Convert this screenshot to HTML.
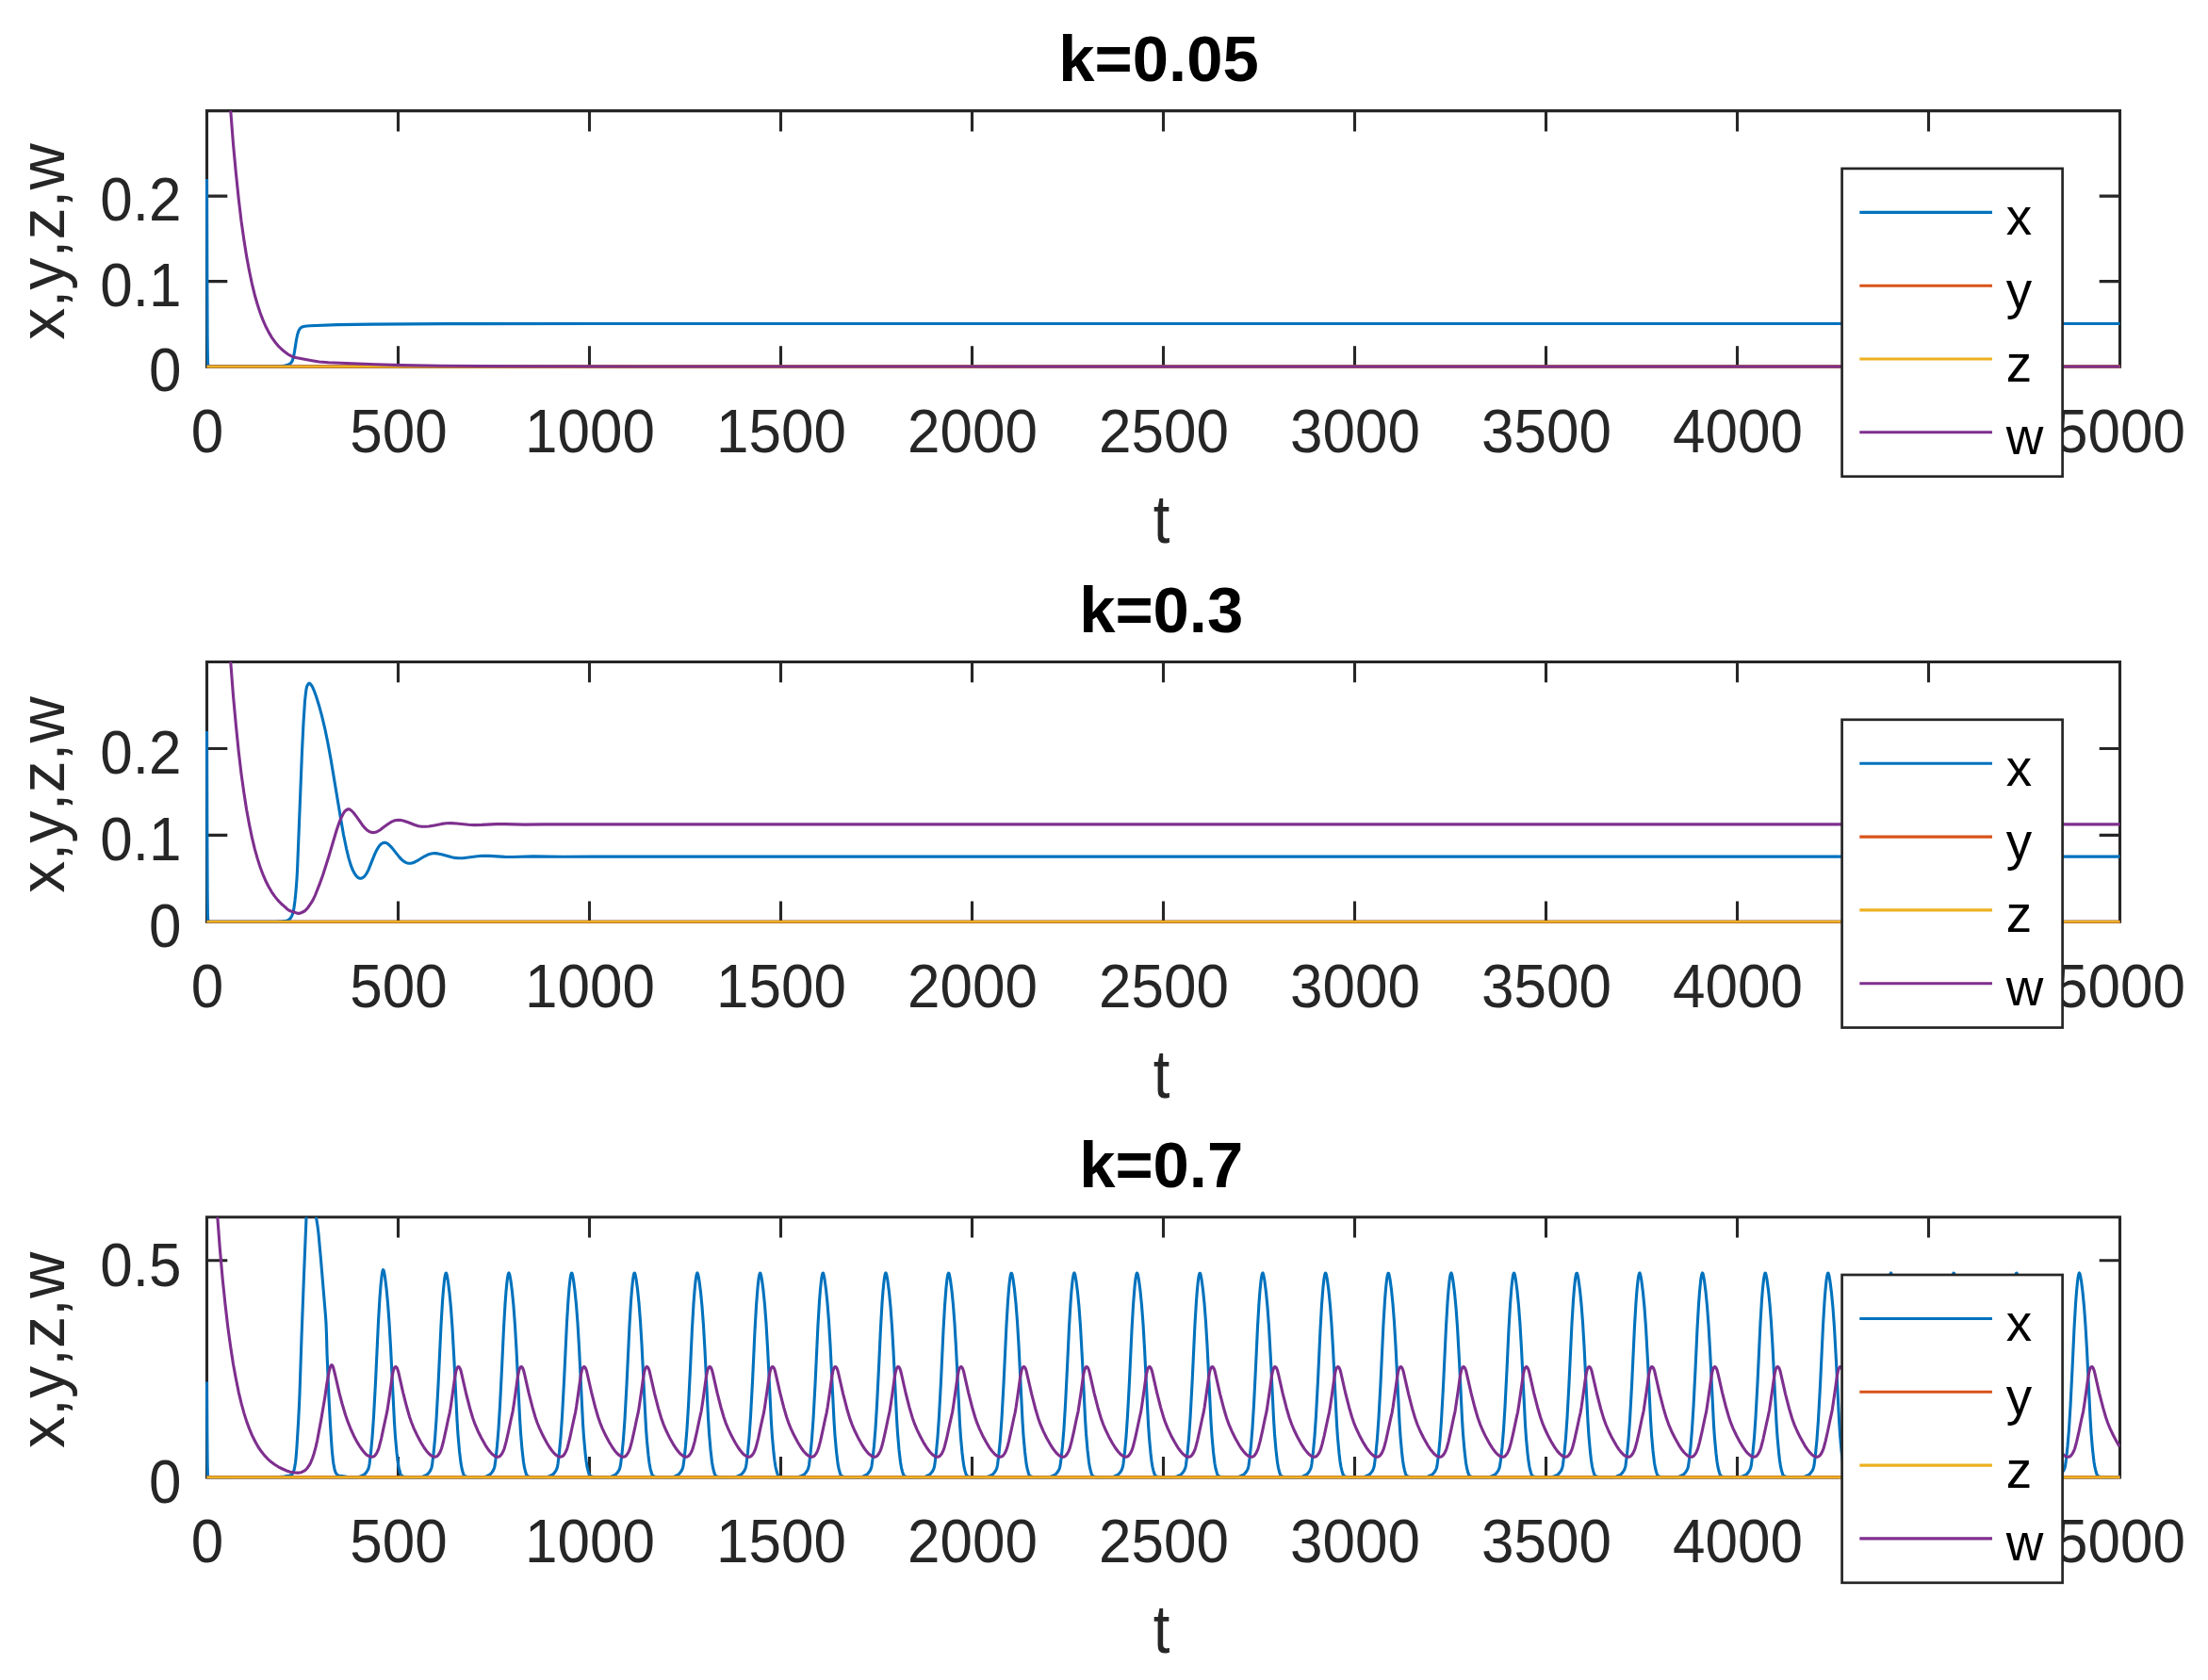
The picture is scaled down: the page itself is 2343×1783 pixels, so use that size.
<!DOCTYPE html><html><head><meta charset="utf-8"><title>k plots</title><style>html,body{margin:0;padding:0;background:#fff}svg{display:block}text{font-family:"Liberation Sans",Arial,Helvetica,sans-serif;font-kerning:none}</style></head><body>
<svg width="2343" height="1783" viewBox="0 0 2343 1783">
<rect width="2343" height="1783" fill="#fff"/>
<g>
<g font-size="62" fill="#262626" text-anchor="middle">
<text transform="translate(220.0,480.4) scale(1,1.038)">0</text>
<text transform="translate(423.0,480.4) scale(1,1.038)">500</text>
<text transform="translate(626.0,480.4) scale(1,1.038)">1000</text>
<text transform="translate(829.0,480.4) scale(1,1.038)">1500</text>
<text transform="translate(1032.0,480.4) scale(1,1.038)">2000</text>
<text transform="translate(1235.0,480.4) scale(1,1.038)">2500</text>
<text transform="translate(1438.0,480.4) scale(1,1.038)">3000</text>
<text transform="translate(1641.0,480.4) scale(1,1.038)">3500</text>
<text transform="translate(1844.0,480.4) scale(1,1.038)">4000</text>
<text transform="translate(2047.0,480.4) scale(1,1.038)">4500</text>
<text transform="translate(2250.0,480.4) scale(1,1.038)">5000</text>
</g>
<g font-size="62" fill="#262626" text-anchor="end">
<text transform="translate(192.5,415.2) scale(1,1.038)">0</text>
<text transform="translate(192.5,324.7) scale(1,1.038)">0.1</text>
<text transform="translate(192.5,234.2) scale(1,1.038)">0.2</text>
</g>
<text transform="translate(1232.5,576.4) scale(0.93,1.05)" font-size="68.2" fill="#262626" text-anchor="middle">t</text>
<text transform="translate(68,256.5) rotate(-90)" font-size="68.2" fill="#262626" text-anchor="middle">x,y,z,w</text>
<text x="1229.5" y="86.4" font-size="68.8" font-weight="bold" fill="#000" text-anchor="middle">k=0.05</text>
<path d="M219.50,117.60 H2249.50 V389.10 H219.50 Z M422.50,389.10 v-21.80 M422.50,117.60 v21.80 M625.50,389.10 v-21.80 M625.50,117.60 v21.80 M828.50,389.10 v-21.80 M828.50,117.60 v21.80 M1031.50,389.10 v-21.80 M1031.50,117.60 v21.80 M1234.50,389.10 v-21.80 M1234.50,117.60 v21.80 M1437.50,389.10 v-21.80 M1437.50,117.60 v21.80 M1640.50,389.10 v-21.80 M1640.50,117.60 v21.80 M1843.50,389.10 v-21.80 M1843.50,117.60 v21.80 M2046.50,389.10 v-21.80 M2046.50,117.60 v21.80 M219.50,298.60 h21.80 M2249.50,298.60 h-21.80 M219.50,208.10 h21.80 M2249.50,208.10 h-21.80" fill="none" stroke="#262626" stroke-width="3.1" stroke-linejoin="miter"/>
<clipPath id="c0"><rect x="217.95" y="117.60" width="2033.10" height="273.05"/></clipPath>
<g clip-path="url(#c0)" fill="none" stroke-width="3.1" stroke-linejoin="round" stroke-linecap="butt">
<path d="M219.5,190 219.8,298.6 220.1,357.4 220.4,381.9 220.8,389.1 294,389.1 299.5,388.6 302.5,388 306,386.9 307.5,386.2 308.5,385.4 309.5,384.2 310.5,382.2 311.5,378.6 312.5,373.2 314.5,360.5 315.5,355.7 316.5,352.3 317,351 318,349.3 319,348.1 320,347.3 321.5,346.7 323.5,346.3 328.5,345.8 358.5,344.6 395,344.1 474,343.6 632,343.5 831.5,343.5 1031,343.5 1230.5,343.5 1430,343.5 1629.5,343.5 1829,343.5 2028.5,343.5 2228,343.5 2249.5,343.5" stroke="#0072BD"/>
<path d="M219.50,389.10 H2249.50" stroke="#D95319"/>
<path d="M219.50,389.10 H2249.50" stroke="#EDB120" stroke-width="2.6"/>
<path d="M241.8,75.8 244.7,117 247.5,152.8 250.4,183.9 253.2,210.9 256,234.4 258.9,254.8 261.7,272.4 264.6,287.8 267.4,301.1 270.2,312.7 273.1,322.8 275.9,331.5 278.8,339.1 282,346.5 285.3,352.9 288.5,358.3 291.8,362.9 295,366.8 298.7,370.5 302.3,373.6 305.6,376 308.6,377.7 311.6,378.9 315.1,379.8 329.6,382.5 338.6,384 348.6,384.7 399.1,386.8 426.6,387.6 467.1,388.2 554.1,388.8 684.1,389 883.6,389 1083.1,389.1 1282.6,389.1 1482.1,389.1 1681.6,389.1 1881.1,389.1 2080.6,389.1 2249.5,389.1" stroke="#7E2F8E"/>
</g>
<rect x="1954.6" y="178.9" width="234" height="326.8" fill="#fff" stroke="#262626" stroke-width="2.7"/>
<path d="M1973.3,225.4 H2114" stroke="#0072BD" stroke-width="3.1" fill="none"/>
<text x="2128.7" y="248.9" font-size="54.8" fill="#000">x</text>
<path d="M1973.3,303.2 H2114" stroke="#D95319" stroke-width="3.1" fill="none"/>
<text x="2128.7" y="326.7" font-size="54.8" fill="#000">y</text>
<path d="M1973.3,381.0 H2114" stroke="#EDB120" stroke-width="3.1" fill="none"/>
<text x="2128.7" y="404.5" font-size="54.8" fill="#000">z</text>
<path d="M1973.3,458.8 H2114" stroke="#7E2F8E" stroke-width="3.1" fill="none"/>
<text x="2128.7" y="482.3" font-size="54.8" fill="#000">w</text>
</g>
<g>
<g font-size="62" fill="#262626" text-anchor="middle">
<text transform="translate(220.0,1069.3) scale(1,1.038)">0</text>
<text transform="translate(423.0,1069.3) scale(1,1.038)">500</text>
<text transform="translate(626.0,1069.3) scale(1,1.038)">1000</text>
<text transform="translate(829.0,1069.3) scale(1,1.038)">1500</text>
<text transform="translate(1032.0,1069.3) scale(1,1.038)">2000</text>
<text transform="translate(1235.0,1069.3) scale(1,1.038)">2500</text>
<text transform="translate(1438.0,1069.3) scale(1,1.038)">3000</text>
<text transform="translate(1641.0,1069.3) scale(1,1.038)">3500</text>
<text transform="translate(1844.0,1069.3) scale(1,1.038)">4000</text>
<text transform="translate(2047.0,1069.3) scale(1,1.038)">4500</text>
<text transform="translate(2250.0,1069.3) scale(1,1.038)">5000</text>
</g>
<g font-size="62" fill="#262626" text-anchor="end">
<text transform="translate(192.5,1004.9) scale(1,1.038)">0</text>
<text transform="translate(192.5,913.0) scale(1,1.038)">0.1</text>
<text transform="translate(192.5,821.0) scale(1,1.038)">0.2</text>
</g>
<text transform="translate(1232.5,1165.3) scale(0.93,1.05)" font-size="68.2" fill="#262626" text-anchor="middle">t</text>
<text transform="translate(68,843.5) rotate(-90)" font-size="68.2" fill="#262626" text-anchor="middle">x,y,z,w</text>
<text x="1232.2" y="670.7" font-size="68.8" font-weight="bold" fill="#000" text-anchor="middle">k=0.3</text>
<path d="M219.50,702.50 H2249.50 V978.30 H219.50 Z M422.50,978.30 v-21.80 M422.50,702.50 v21.80 M625.50,978.30 v-21.80 M625.50,702.50 v21.80 M828.50,978.30 v-21.80 M828.50,702.50 v21.80 M1031.50,978.30 v-21.80 M1031.50,702.50 v21.80 M1234.50,978.30 v-21.80 M1234.50,702.50 v21.80 M1437.50,978.30 v-21.80 M1437.50,702.50 v21.80 M1640.50,978.30 v-21.80 M1640.50,702.50 v21.80 M1843.50,978.30 v-21.80 M1843.50,702.50 v21.80 M2046.50,978.30 v-21.80 M2046.50,702.50 v21.80 M219.50,886.37 h21.80 M2249.50,886.37 h-21.80 M219.50,794.43 h21.80 M2249.50,794.43 h-21.80" fill="none" stroke="#262626" stroke-width="3.1" stroke-linejoin="miter"/>
<clipPath id="c1"><rect x="217.95" y="702.50" width="2033.10" height="277.35"/></clipPath>
<g clip-path="url(#c1)" fill="none" stroke-width="3.1" stroke-linejoin="round" stroke-linecap="butt">
<path d="M219.5,776 219.8,886.4 220.1,946.1 220.4,970.9 220.8,978.3 293.5,978.3 300,977.7 304,977.2 306,976.6 307,975.8 308.5,974.1 309.5,972.5 310.5,970 311.5,965.9 312,963.3 313,955.7 314,945.8 315,932.6 315.5,923.8 320.5,797.6 322,767.2 323.5,744.2 324.5,734.9 325,731.4 325.5,729 326.5,726.9 327,726.1 327.5,725.5 328,725.2 328.5,725.2 329,725.5 330,726.7 331.5,728.9 333,732.3 335.5,739 338.5,748.7 341.5,759.6 345,774.4 348,789 351,805.4 361.5,868.6 364.5,885.8 367.5,900.3 370,910.6 372,917.4 373.5,921.5 375,924.8 376.5,927.5 378,929.5 379.5,931.1 380.5,931.7 382,932.2 383,932.3 384.5,931.8 386,930.8 387.5,929.2 389,927 391,923.1 394,915.7 397.5,906.9 399.5,902.6 401.5,899.2 403,897.1 404.5,895.7 406,894.7 407,894.4 408.5,894.3 410,894.7 411.5,895.5 413.5,897.2 416,899.9 423.5,909.4 426,912.1 428,913.8 430,915.1 432,915.9 434,916.3 436,916.2 438,915.7 440.5,914.7 444,912.8 450.5,908.8 453.5,907.3 456.5,906.3 459,905.8 461.5,905.6 464.5,905.9 468.5,906.7 478.5,909.6 482.5,910.4 486.5,910.8 491,910.7 497,910 506.5,908.7 512.5,908.3 519,908.4 535.5,909.4 544,909.5 565.5,908.9 598,909.2 630,909.1 829.5,909.1 1029,909.1 1228.5,909.1 1428,909.1 1627.5,909.1 1827,909.1 2026.5,909.1 2226,909.1 2249.5,909.1" stroke="#0072BD"/>
<path d="M219.50,978.30 H2249.50" stroke="#D95319"/>
<path d="M219.50,978.30 H2249.50" stroke="#EDB120" stroke-width="2.6"/>
<path d="M241.8,660.1 244.7,701.9 247.5,738.3 250.4,769.9 253.2,797.3 256,821.1 258.9,841.8 261.7,859.8 264.6,875.4 267.4,888.9 270.2,900.7 273.1,910.9 275.9,919.8 278.8,927.5 281.6,934.2 284.9,940.7 288.1,946.3 291.4,951.1 294.6,955.1 298.3,959 301.9,962.2 303.1,963.1 304.6,964.7 306.1,965.8 308.6,967 313.6,968.6 315.6,969.3 316.6,969.4 318.1,969.2 320.1,968.5 323.1,967 324.6,965.8 326.6,963.5 329.6,959.2 332.1,955.1 334.6,949.8 339.1,938.4 342.6,928.7 349.1,908.3 357.1,881.2 360.1,872.6 362.1,867.7 364.1,863.8 365.6,861.4 366.6,860.4 368.6,859.1 369.6,858.8 370.1,858.8 371.1,859.1 373.1,860.5 375.1,862.5 378.1,866.4 384.6,875.7 387.1,878.7 389.1,880.7 391.1,882.1 393.1,883.1 394.6,883.5 396.6,883.6 398.6,883.2 400.6,882.4 403.1,881 407.6,877.6 412.6,874 415.6,872.2 418.1,871.1 420.6,870.5 423.1,870.3 425.6,870.5 428.6,871.2 433.1,872.8 440.1,875.5 444.1,876.7 447.6,877.2 451.1,877.3 455.1,877 461.1,875.9 468.6,874.4 473.6,873.8 478.6,873.6 484.6,874 497.1,875.3 503.6,875.6 511.1,875.4 526.6,874.6 536.1,874.6 556.6,875.1 577.1,874.9 596.1,874.9 623.1,874.9 822.6,874.9 1022.1,874.9 1221.6,874.9 1421.1,874.9 1620.6,874.9 1820.1,874.9 2019.6,874.9 2219.1,874.9 2249.5,874.9" stroke="#7E2F8E"/>
</g>
<rect x="1954.6" y="763.8" width="234" height="326.8" fill="#fff" stroke="#262626" stroke-width="2.7"/>
<path d="M1973.3,810.3 H2114" stroke="#0072BD" stroke-width="3.1" fill="none"/>
<text x="2128.7" y="833.8" font-size="54.8" fill="#000">x</text>
<path d="M1973.3,888.1 H2114" stroke="#D95319" stroke-width="3.1" fill="none"/>
<text x="2128.7" y="911.6" font-size="54.8" fill="#000">y</text>
<path d="M1973.3,965.9 H2114" stroke="#EDB120" stroke-width="3.1" fill="none"/>
<text x="2128.7" y="989.4" font-size="54.8" fill="#000">z</text>
<path d="M1973.3,1043.7 H2114" stroke="#7E2F8E" stroke-width="3.1" fill="none"/>
<text x="2128.7" y="1067.2" font-size="54.8" fill="#000">w</text>
</g>
<g>
<g font-size="62" fill="#262626" text-anchor="middle">
<text transform="translate(220.0,1658.2) scale(1,1.038)">0</text>
<text transform="translate(423.0,1658.2) scale(1,1.038)">500</text>
<text transform="translate(626.0,1658.2) scale(1,1.038)">1000</text>
<text transform="translate(829.0,1658.2) scale(1,1.038)">1500</text>
<text transform="translate(1032.0,1658.2) scale(1,1.038)">2000</text>
<text transform="translate(1235.0,1658.2) scale(1,1.038)">2500</text>
<text transform="translate(1438.0,1658.2) scale(1,1.038)">3000</text>
<text transform="translate(1641.0,1658.2) scale(1,1.038)">3500</text>
<text transform="translate(1844.0,1658.2) scale(1,1.038)">4000</text>
<text transform="translate(2047.0,1658.2) scale(1,1.038)">4500</text>
<text transform="translate(2250.0,1658.2) scale(1,1.038)">5000</text>
</g>
<g font-size="62" fill="#262626" text-anchor="end">
<text transform="translate(192.5,1595.0) scale(1,1.038)">0</text>
<text transform="translate(192.5,1364.8) scale(1,1.038)">0.5</text>
</g>
<text transform="translate(1232.5,1754.2) scale(0.93,1.05)" font-size="68.2" fill="#262626" text-anchor="middle">t</text>
<text transform="translate(68,1432.9) rotate(-90)" font-size="68.2" fill="#262626" text-anchor="middle">x,y,z,w</text>
<text x="1232.2" y="1260.0" font-size="68.8" font-weight="bold" fill="#000" text-anchor="middle">k=0.7</text>
<path d="M219.50,1291.70 H2249.50 V1567.90 H219.50 Z M422.50,1567.90 v-21.80 M422.50,1291.70 v21.80 M625.50,1567.90 v-21.80 M625.50,1291.70 v21.80 M828.50,1567.90 v-21.80 M828.50,1291.70 v21.80 M1031.50,1567.90 v-21.80 M1031.50,1291.70 v21.80 M1234.50,1567.90 v-21.80 M1234.50,1291.70 v21.80 M1437.50,1567.90 v-21.80 M1437.50,1291.70 v21.80 M1640.50,1567.90 v-21.80 M1640.50,1291.70 v21.80 M1843.50,1567.90 v-21.80 M1843.50,1291.70 v21.80 M2046.50,1567.90 v-21.80 M2046.50,1291.70 v21.80 M219.50,1337.73 h21.80 M2249.50,1337.73 h-21.80" fill="none" stroke="#262626" stroke-width="3.1" stroke-linejoin="miter"/>
<clipPath id="c2"><rect x="217.95" y="1291.70" width="2033.10" height="277.75"/></clipPath>
<g clip-path="url(#c2)" fill="none" stroke-width="3.1" stroke-linejoin="round" stroke-linecap="butt">
<path d="M219.5,1466.6 219.8,1521.9 220.1,1551.8 220.4,1564.2 220.8,1567.9 285.5,1567.7 296,1567.6 301.5,1567 307.5,1566 309,1565.5 309.5,1565.2 310,1564.7 311,1562.8 312,1560.2 312.5,1558.2 313.5,1552.2 314,1548.1 315,1535.4 316.5,1510.6 317.5,1491.4 318,1479.3 320,1419.5 322.5,1353.5 325,1292.5 326,1282.6 327,1275 328,1269.3 328.5,1267.3 329,1265.8 329.5,1264.7 330,1264.2 330.5,1264.2 331,1265 331.5,1266.6 332.5,1271.7 335.5,1292 337,1301.1 338,1309.4 340.5,1336.8 345.5,1396.8 346,1404.7 346.5,1417.4 347,1436 349,1483.8 350.5,1511.9 352,1535 352.5,1541.3 353.5,1550.5 354,1554 355,1559.1 355.5,1561.1 356,1562.5 357,1564.2 358,1565.3 359,1565.9 361.5,1566.4 368,1567.4 372,1567.9 378.5,1567.8 381,1567.5 383,1566.7 384.5,1565.9 386,1565.3 387,1564.6 388.5,1562.9 390,1560.7 391,1558.5 391.5,1556.7 392,1554 393.5,1541.6 395,1525.6 396.5,1503.9 398.5,1466.9 401.5,1402.5 403,1377.4 404,1364.5 405,1354.8 405.5,1351.4 406,1348.9 406.5,1347.7 407,1348 407.5,1349.6 408.5,1355.2 410,1367.2 411.5,1383.1 413,1403.3 414.5,1429 418.5,1510 419.5,1524.9 421,1541.4 422,1550.1 423,1556.6 424,1560.8 425,1564.2 425.5,1565.5 426,1566.1 427,1566.8 428.5,1567.4 431,1567.8 444,1567.9 447,1567.6 448.5,1567.2 451.5,1565.8 453,1565.1 454,1564.2 455.5,1562.4 456.5,1561 457.5,1558.9 458,1557.4 458.5,1555.1 460,1543 461.5,1527.5 463,1506.6 465,1470.3 468,1406.6 469.5,1381.6 470.5,1368.8 471.5,1359.1 472,1355.5 472.5,1352.9 473,1351.4 473.5,1351.1 474,1352.3 474.5,1354.4 475.5,1360.4 477,1372.5 478.5,1388.4 480,1409.3 482,1445.4 485,1507.2 486,1522.8 487.5,1539.9 489,1552.6 490,1558.2 491,1562 492,1565.2 492.5,1565.9 493.5,1566.7 495,1567.4 497.5,1567.8 510,1567.9 513,1567.7 514.5,1567.4 516,1566.9 518,1565.9 519.5,1565.2 520.5,1564.4 522,1562.7 523,1561.2 524,1559.3 524.5,1557.9 525,1556 526,1548.7 527.5,1534.9 529,1516.6 530.5,1492.3 532.5,1452.7 534.5,1409.7 536,1384 537,1370.6 538,1360.4 538.5,1356.5 539,1353.6 539.5,1351.7 540,1351 540.5,1351.8 541,1353.7 542,1359.3 543.5,1371 545,1386.5 546.5,1406.8 548,1432.6 551.5,1504.2 552.5,1520.6 554,1538.3 555.5,1551.5 556.5,1557.4 557.5,1561.5 558.5,1564.7 559,1565.7 560,1566.6 561.5,1567.3 563.5,1567.7 567,1567.9 578,1567.8 581,1567.5 583,1566.7 584.5,1565.9 586,1565.3 587,1564.6 588.5,1562.9 590,1560.7 591,1558.4 591.5,1556.7 592,1553.8 593.5,1541.4 595,1525.4 596.5,1503.7 598.5,1466.7 601.5,1403.2 603,1379.1 604,1366.8 605,1357.7 605.5,1354.4 606,1352.2 606.5,1351.1 607,1351.4 607.5,1353 608.5,1358.3 610,1369.6 611.5,1384.7 613,1404.3 614.5,1429.6 618.5,1510.3 619.5,1525.2 621,1541.6 622,1550.3 623,1556.7 624,1560.9 625,1564.3 625.5,1565.5 626,1566.1 627,1566.8 628.5,1567.4 631,1567.8 644,1567.9 647,1567.6 648.5,1567.2 651.5,1565.8 653,1565.1 654.5,1563.7 656,1561.7 657,1560 657.5,1558.9 658,1557.3 658.5,1554.9 660,1542.8 661.5,1527.3 663,1506.3 665,1469.9 668,1406.2 669.5,1381.4 670.5,1368.6 671.5,1358.9 672,1355.4 672.5,1352.8 673,1351.3 673.5,1351.1 674,1352.4 675,1357.3 676.5,1368.2 678,1382.9 679.5,1402 681,1426.7 684,1487.4 685.5,1515.9 686.5,1529.4 688,1544.7 689,1552.8 690,1558.3 691,1562.1 692,1565.2 692.5,1565.9 693.5,1566.7 695,1567.4 697.5,1567.8 710,1567.9 713,1567.7 714.5,1567.4 716,1566.9 718,1565.9 719.5,1565.2 720.5,1564.4 722,1562.6 723,1561.2 724,1559.3 724.5,1557.9 725,1555.9 726,1548.5 727.5,1534.7 729,1516.4 730.5,1492 732.5,1452.3 734.5,1409.3 736,1383.7 737,1370.4 738,1360.2 738.5,1356.4 739,1353.5 739.5,1351.7 740,1351 740.5,1351.9 741,1353.8 742,1359.4 743.5,1371.2 745,1386.8 746.5,1407.1 748,1433 751.5,1504.6 752.5,1520.9 754,1538.5 755.5,1551.7 756.5,1557.5 757.5,1561.5 758.5,1564.8 759,1565.7 760,1566.6 761.5,1567.3 763.5,1567.7 767,1567.9 778,1567.8 781,1567.5 783,1566.7 784.5,1565.9 786,1565.3 787,1564.5 788.5,1562.8 790,1560.6 791,1558.4 791.5,1556.6 792,1553.7 793.5,1541.2 795,1525.1 796.5,1503.3 798.5,1466.3 801,1412.4 802.5,1386.1 804,1366.6 805,1357.5 805.5,1354.3 806,1352.1 806.5,1351.1 807,1351.4 807.5,1353.1 808.5,1358.4 810,1369.8 811.5,1384.9 813,1404.6 814.5,1430 818.5,1510.7 819.5,1525.4 821,1541.8 822,1550.5 823,1556.8 824,1561 825,1564.3 825.5,1565.5 826.5,1566.5 828,1567.3 829.5,1567.6 832,1567.9 844.5,1567.8 847.5,1567.5 849.5,1566.8 851,1566 852.5,1565.4 853.5,1564.7 855,1563 856.5,1560.9 857.5,1558.8 858,1557.2 858.5,1554.8 860,1542.7 861.5,1527.1 863,1506 865,1469.5 868,1405.8 869.5,1381.1 870.5,1368.3 871.5,1358.8 872,1355.3 872.5,1352.7 873,1351.3 873.5,1351.1 874,1352.5 875,1357.4 876.5,1368.4 878,1383.1 879.5,1402.3 881,1427 885,1507.9 886,1523.3 887.5,1540.3 889,1552.9 890,1558.4 891.5,1563.8 892,1565.2 892.5,1566 893.5,1566.7 895,1567.4 897.5,1567.8 910,1567.9 913,1567.7 914.5,1567.4 916,1566.9 918,1565.9 919.5,1565.2 920.5,1564.4 922,1562.6 923,1561.2 924,1559.2 924.5,1557.8 925,1555.8 926,1548.4 927.5,1534.5 929,1516.1 930.5,1491.6 932.5,1451.8 934.5,1408.9 936,1383.4 937,1370.2 938,1360.1 938.5,1356.3 939,1353.4 939.5,1351.6 940,1351 940.5,1351.9 941,1353.9 942,1359.6 943.5,1371.4 945,1387 946.5,1407.4 948,1433.4 951.5,1505 952.5,1521.1 954,1538.7 955.5,1551.8 956.5,1557.6 957.5,1561.6 958.5,1564.8 959,1565.8 960,1566.6 961.5,1567.3 963.5,1567.7 967.5,1567.9 978,1567.8 980.5,1567.6 982.5,1566.9 984.5,1565.9 986,1565.3 987,1564.5 988.5,1562.8 990,1560.6 991,1558.3 991.5,1556.5 992,1553.6 993.5,1541 995,1524.9 996.5,1503 998.5,1465.9 1001,1412 1002.5,1385.8 1004,1366.4 1005,1357.4 1005.5,1354.2 1006,1352.1 1006.5,1351.1 1007,1351.5 1007.5,1353.2 1008.5,1358.5 1010,1369.9 1011.5,1385.1 1013,1404.9 1014.5,1430.4 1018.5,1511 1019.5,1525.7 1021,1542 1022,1550.6 1023,1556.9 1024,1561.1 1025,1564.4 1025.5,1565.6 1026.5,1566.5 1028,1567.3 1030,1567.7 1033,1567.9 1044.5,1567.8 1047.5,1567.5 1049.5,1566.8 1051,1566 1052.5,1565.4 1053.5,1564.7 1055,1563 1056.5,1560.9 1057.5,1558.8 1058,1557.1 1058.5,1554.7 1060,1542.5 1061.5,1526.8 1063,1505.6 1065,1469.1 1068,1405.5 1069.5,1380.8 1070.5,1368.1 1071.5,1358.6 1072,1355.1 1072.5,1352.6 1073,1351.2 1073.5,1351.2 1074,1352.5 1075,1357.5 1076.5,1368.5 1078,1383.3 1079.5,1402.5 1081,1427.4 1085,1508.2 1086,1523.6 1087.5,1540.5 1089,1553.1 1090,1558.4 1091.5,1563.9 1092,1565.3 1092.5,1566 1093.5,1566.7 1095,1567.4 1097.5,1567.8 1110,1567.9 1113,1567.7 1114.5,1567.4 1116,1566.8 1118,1565.9 1119.5,1565.2 1120.5,1564.3 1122,1562.6 1123,1561.1 1124,1559.2 1124.5,1557.7 1125,1555.6 1126,1548.2 1127.5,1534.2 1129,1515.8 1130.5,1491.2 1132.5,1451.4 1134.5,1408.5 1136,1383.1 1137,1369.9 1138,1359.9 1138.5,1356.1 1139,1353.3 1139.5,1351.6 1140,1351 1140.5,1352 1141,1354 1142,1359.7 1143.5,1371.6 1145,1387.2 1146.5,1407.7 1148.5,1443.5 1151.5,1505.3 1152.5,1521.4 1154,1538.9 1155.5,1551.9 1156.5,1557.7 1157.5,1561.7 1158.5,1564.9 1159,1565.8 1160,1566.6 1161.5,1567.3 1163.5,1567.7 1167.5,1567.9 1178,1567.8 1180.5,1567.6 1182.5,1566.9 1184.5,1565.9 1186,1565.3 1187,1564.5 1188.5,1562.8 1190,1560.6 1191,1558.2 1191.5,1556.4 1192,1553.4 1193.5,1540.8 1195,1524.6 1196.5,1502.7 1198.5,1465.4 1201,1411.6 1202.5,1385.5 1204,1366.2 1205,1357.2 1205.5,1354.1 1206,1352 1206.5,1351 1207,1351.5 1207.5,1353.3 1208.5,1358.6 1210,1370.1 1211.5,1385.4 1213,1405.2 1214.5,1430.7 1218.5,1511.3 1219.5,1525.9 1221,1542.2 1222,1550.8 1223,1557 1224,1561.1 1225,1564.4 1225.5,1565.6 1226.5,1566.5 1228,1567.3 1230,1567.7 1233,1567.9 1244.5,1567.8 1247.5,1567.5 1249.5,1566.7 1251,1566 1252.5,1565.4 1253.5,1564.6 1255,1563 1256.5,1560.8 1257.5,1558.7 1258,1557.1 1258.5,1554.5 1260,1542.3 1261.5,1526.6 1263,1505.3 1265,1468.7 1268,1405.1 1269.5,1380.5 1270.5,1367.9 1271.5,1358.4 1272,1355 1272.5,1352.6 1273,1351.2 1273.5,1351.2 1274,1352.6 1275,1357.6 1276.5,1368.7 1278,1383.5 1279.5,1402.8 1281,1427.8 1285,1508.6 1286,1523.9 1287.5,1540.7 1289,1553.2 1290,1558.5 1291.5,1563.9 1292,1565.3 1292.5,1566 1293.5,1566.8 1295,1567.4 1297.5,1567.8 1310,1567.9 1313,1567.7 1314.5,1567.4 1316,1566.8 1317.5,1566 1319.5,1565.2 1320.5,1564.3 1322,1562.6 1323,1561.1 1324,1559.1 1324.5,1557.7 1325,1555.5 1326,1548 1327.5,1534 1329,1515.5 1330.5,1490.9 1332.5,1451 1334.5,1408.1 1336,1382.8 1337,1369.7 1338,1359.7 1338.5,1356 1339,1353.2 1339.5,1351.5 1340,1351 1340.5,1352.1 1341,1354.1 1342,1359.8 1343.5,1371.7 1345,1387.5 1346.5,1408 1348.5,1443.9 1351.5,1505.7 1352.5,1521.7 1354,1539.1 1355.5,1552.1 1356.5,1557.8 1357.5,1561.7 1358.5,1565 1359,1565.8 1360,1566.7 1361.5,1567.4 1363.5,1567.7 1367.5,1567.9 1378,1567.8 1380.5,1567.6 1382.5,1566.9 1384.5,1565.9 1386,1565.3 1387,1564.5 1388.5,1562.8 1390,1560.5 1391,1558.2 1391.5,1556.3 1392,1553.3 1393.5,1540.6 1395,1524.4 1396.5,1502.3 1398.5,1465 1401,1411.2 1402.5,1385.2 1404,1365.9 1405,1357.1 1405.5,1354 1406,1351.9 1406.5,1351 1407,1351.6 1407.5,1353.3 1408.5,1358.8 1410,1370.3 1411.5,1385.6 1413,1405.5 1414.5,1431.1 1418.5,1511.7 1419.5,1526.2 1421,1542.4 1422,1550.9 1423,1557 1424,1561.2 1425,1564.5 1425.5,1565.6 1426.5,1566.6 1428,1567.3 1430,1567.7 1433,1567.9 1444.5,1567.8 1447.5,1567.5 1449.5,1566.7 1451,1566 1452.5,1565.3 1453.5,1564.6 1455,1563 1456.5,1560.8 1457.5,1558.6 1458,1557 1458.5,1554.4 1460,1542.1 1461.5,1526.3 1463,1505 1465,1468.3 1468,1404.7 1469.5,1380.2 1470.5,1367.7 1471.5,1358.3 1472,1354.9 1472.5,1352.5 1473,1351.2 1473.5,1351.2 1474,1352.7 1475,1357.8 1476.5,1368.9 1478,1383.8 1479.5,1403.1 1481,1428.1 1485,1508.9 1486,1524.1 1487.5,1540.9 1488.5,1549.7 1489.5,1556.2 1490.5,1560.6 1491.5,1564 1492,1565.4 1492.5,1566 1493.5,1566.8 1495,1567.4 1497.5,1567.8 1510.5,1567.9 1513.5,1567.6 1515,1567.2 1516.5,1566.5 1519.5,1565.1 1520.5,1564.3 1522,1562.5 1523,1561.1 1524,1559.1 1524.5,1557.6 1525,1555.4 1526.5,1543.6 1528,1528.3 1529.5,1507.6 1531.5,1471.5 1534.5,1407.7 1536,1382.5 1537,1369.5 1538,1359.6 1538.5,1355.9 1539,1353.2 1539.5,1351.5 1540,1351 1540.5,1352.1 1541,1354.2 1542,1360 1543.5,1371.9 1545,1387.7 1546.5,1408.3 1548.5,1444.2 1551.5,1506.1 1552.5,1522 1554,1539.3 1555.5,1552.2 1556.5,1557.9 1557.5,1561.8 1558.5,1565 1559,1565.8 1560,1566.7 1561.5,1567.4 1564,1567.8 1576.5,1567.9 1579.5,1567.7 1581,1567.5 1583,1566.6 1584.5,1565.9 1586,1565.2 1587,1564.5 1588.5,1562.7 1590,1560.5 1591,1558.1 1591.5,1556.2 1592.5,1549.2 1594,1535.5 1595.5,1517.5 1597,1493.4 1599,1454 1601,1410.8 1602.5,1384.9 1604,1365.7 1605,1357 1605.5,1353.9 1606,1351.9 1606.5,1351 1607,1351.6 1607.5,1353.4 1608.5,1358.9 1610,1370.5 1611.5,1385.8 1613,1405.8 1614.5,1431.5 1618.5,1512 1619.5,1526.5 1621,1542.6 1622,1551.1 1623,1557.1 1624,1561.3 1625,1564.6 1625.5,1565.6 1626.5,1566.6 1628,1567.3 1630,1567.7 1633,1567.9 1644.5,1567.8 1647.5,1567.5 1649.5,1566.7 1651,1566 1652.5,1565.3 1653.5,1564.6 1655,1562.9 1656.5,1560.8 1657.5,1558.6 1658,1556.9 1658.5,1554.3 1660,1541.9 1661.5,1526.1 1663,1504.7 1665,1467.9 1668,1404.3 1669.5,1379.9 1670.5,1367.4 1671.5,1358.1 1672,1354.8 1672.5,1352.4 1673,1351.2 1673.5,1351.3 1674,1352.8 1675,1357.9 1676.5,1369.1 1678,1384 1679.5,1403.4 1681,1428.5 1685,1509.3 1686,1524.4 1687.5,1541.1 1688.5,1549.8 1689.5,1556.3 1690.5,1560.7 1691.5,1564.1 1692,1565.4 1692.5,1566 1693.5,1566.8 1695,1567.4 1697.5,1567.8 1710.5,1567.9 1713.5,1567.6 1715,1567.2 1716.5,1566.5 1719.5,1565.1 1720.5,1564.3 1722,1562.5 1723,1561 1724,1559 1724.5,1557.5 1725,1555.3 1726.5,1543.4 1728,1528 1729.5,1507.3 1731.5,1471.1 1734.5,1407.4 1736,1382.2 1737,1369.2 1738,1359.4 1738.5,1355.8 1739,1353.1 1739.5,1351.4 1740,1351 1740.5,1352.2 1741,1354.3 1742,1360.1 1743.5,1372.1 1745,1388 1746.5,1408.6 1748.5,1444.6 1751.5,1506.4 1752.5,1522.3 1754,1539.5 1755.5,1552.4 1756.5,1558 1757.5,1561.9 1758.5,1565.1 1759,1565.9 1760,1566.7 1761.5,1567.4 1764,1567.8 1776.5,1567.9 1779.5,1567.7 1781,1567.5 1783,1566.6 1784.5,1565.9 1786,1565.2 1787,1564.4 1788.5,1562.7 1790,1560.4 1791,1558.1 1791.5,1556.1 1792.5,1549 1794,1535.3 1795.5,1517.2 1797,1493 1799,1453.6 1801,1410.4 1802.5,1384.6 1803.5,1371.1 1804.5,1360.8 1805,1356.8 1805.5,1353.8 1806,1351.8 1806.5,1351 1807,1351.7 1807.5,1353.5 1808.5,1359 1810,1370.7 1811.5,1386.1 1813,1406.1 1814.5,1431.9 1818.5,1512.3 1819.5,1526.7 1821,1542.7 1822,1551.2 1823,1557.2 1824,1561.3 1825,1564.6 1825.5,1565.7 1826.5,1566.6 1828,1567.3 1830,1567.7 1833.5,1567.9 1844.5,1567.8 1847.5,1567.5 1849.5,1566.7 1851,1566 1852.5,1565.3 1853.5,1564.6 1855,1562.9 1856.5,1560.7 1857.5,1558.5 1858,1556.8 1858.5,1554.1 1860,1541.7 1861.5,1525.9 1863,1504.3 1865,1467.5 1868,1404 1869.5,1379.7 1870.5,1367.2 1871.5,1358 1872,1354.7 1872.5,1352.3 1873,1351.1 1873.5,1351.3 1874,1352.8 1875,1358 1876.5,1369.2 1878,1384.2 1879.5,1403.7 1881,1428.9 1885,1509.6 1886,1524.7 1887.5,1541.2 1888.5,1550 1889.5,1556.4 1890.5,1560.8 1891.5,1564.1 1892,1565.4 1892.5,1566.1 1893.5,1566.8 1895,1567.4 1897.5,1567.8 1910.5,1567.9 1913.5,1567.6 1915,1567.2 1918,1565.8 1919.5,1565.1 1920.5,1564.3 1922,1562.5 1923,1561 1924,1559 1924.5,1557.4 1925,1555.2 1926.5,1543.2 1928,1527.8 1929.5,1506.9 1931.5,1470.7 1934.5,1407 1936,1381.9 1937,1369 1938,1359.2 1938.5,1355.6 1939,1353 1939.5,1351.4 1940,1351.1 1940.5,1352.3 1941,1354.3 1942,1360.2 1943.5,1372.3 1945,1388.2 1946.5,1408.9 1948.5,1445 1951.5,1506.8 1952.5,1522.5 1954,1539.7 1955.5,1552.5 1956.5,1558.1 1957.5,1562 1958.5,1565.1 1959,1565.9 1960,1566.7 1961.5,1567.4 1964,1567.8 1976.5,1567.9 1979.5,1567.7 1981,1567.5 1983,1566.6 1984.5,1565.9 1986,1565.2 1987,1564.4 1988.5,1562.7 1990,1560.4 1991,1558 1991.5,1556.1 1992.5,1548.9 1994,1535.1 1995.5,1516.9 1997,1492.7 1999,1453.1 2001,1410 2002.5,1384.3 2003.5,1370.9 2004.5,1360.6 2005,1356.7 2005.5,1353.7 2006,1351.8 2006.5,1351 2007,1351.7 2007.5,1353.6 2008.5,1359.2 2010,1370.8 2011.5,1386.3 2013,1406.5 2014.5,1432.2 2018,1503.8 2019,1520.3 2020.5,1538.1 2022,1551.4 2023,1557.3 2024,1561.4 2025,1564.7 2025.5,1565.7 2026.5,1566.6 2028,1567.3 2030,1567.7 2033.5,1567.9 2044.5,1567.8 2047.5,1567.5 2049.5,1566.7 2051,1565.9 2052.5,1565.3 2053.5,1564.6 2055,1562.9 2056.5,1560.7 2057.5,1558.5 2058,1556.7 2058.5,1554 2060,1541.6 2061.5,1525.6 2063,1504 2065,1467.1 2068,1403.6 2069.5,1379.4 2070.5,1367 2071.5,1357.8 2072,1354.6 2072.5,1352.3 2073,1351.1 2073.5,1351.4 2074,1352.9 2075,1358.1 2076.5,1369.4 2078,1384.5 2079.5,1404 2081,1429.2 2085,1510 2086,1524.9 2087.5,1541.4 2088.5,1550.1 2089.5,1556.6 2090.5,1560.8 2091.5,1564.2 2092,1565.5 2092.5,1566.1 2093.5,1566.8 2095,1567.4 2097.5,1567.8 2110.5,1567.9 2113.5,1567.6 2115,1567.2 2118,1565.8 2119.5,1565.1 2120.5,1564.2 2122,1562.4 2123,1561 2124,1558.9 2124.5,1557.4 2125,1555.1 2126.5,1543 2128,1527.5 2129.5,1506.6 2131.5,1470.3 2134.5,1406.6 2136,1381.6 2137,1368.8 2138,1359.1 2138.5,1355.5 2139,1352.9 2139.5,1351.4 2140,1351.1 2140.5,1352.3 2141,1354.4 2142,1360.4 2143.5,1372.5 2145,1388.4 2146.5,1409.3 2148.5,1445.4 2151.5,1507.2 2152.5,1522.8 2154,1539.9 2155.5,1552.6 2156.5,1558.2 2157.5,1562 2158.5,1565.2 2159,1565.9 2160,1566.7 2161.5,1567.4 2164,1567.8 2176.5,1567.9 2179.5,1567.7 2181,1567.4 2182.5,1566.9 2184.5,1565.9 2186,1565.2 2187,1564.4 2188.5,1562.7 2189.5,1561.2 2190.5,1559.3 2191,1557.9 2191.5,1556 2192.5,1548.7 2194,1534.9 2195.5,1516.6 2197,1492.3 2199,1452.7 2201,1409.7 2202.5,1384 2203.5,1370.6 2204.5,1360.4 2205,1356.5 2205.5,1353.6 2206,1351.7 2206.5,1351 2207,1351.8 2207.5,1353.7 2208.5,1359.3 2210,1371 2211.5,1386.5 2213,1406.8 2214.5,1432.6 2218,1504.2 2219,1520.6 2220.5,1538.3 2222,1551.5 2223,1557.4 2224,1561.5 2225,1564.7 2225.5,1565.7 2226.5,1566.6 2228,1567.3 2230,1567.7 2233.5,1567.9 2244.5,1567.8 2247.5,1567.5 2249.5,1566.7" stroke="#0072BD"/>
<path d="M219.50,1567.90 H2249.50" stroke="#D95319"/>
<path d="M219.50,1567.90 H2249.50" stroke="#EDB120" stroke-width="2.6"/>
<path d="M227.6,1245.2 230.5,1287.7 233.3,1324.6 236.1,1356.6 239,1384.4 241.8,1408.5 244.7,1429.5 247.5,1447.7 250.4,1463.5 253.2,1477.3 256,1489.2 258.9,1499.6 261.7,1508.6 264.6,1516.4 267.4,1523.1 270.7,1529.8 273.9,1535.5 277.2,1540.3 280.4,1544.4 284.1,1548.3 287.7,1551.6 291.4,1554.3 295.4,1556.8 299.9,1559 305.1,1561.3 308.1,1562.2 313.1,1563 316.1,1563.1 319.1,1562.7 320.6,1562.2 322.6,1561.2 324.6,1559.7 326.1,1558 328.1,1555.2 329.6,1552.4 331.6,1547.5 333.1,1543 335.1,1535.7 336.6,1529 340.6,1507.6 344.6,1483.9 347.1,1467.1 349.1,1456.2 350.1,1452.1 350.6,1450.5 351.1,1449.5 351.6,1448.8 352.1,1448.6 352.6,1449.1 353.1,1449.9 353.6,1451.1 355.6,1459 360.1,1478.7 363.1,1490 366.6,1501.7 369.1,1508.9 372.1,1516.5 375.6,1524.2 378.6,1529.9 381.6,1534.8 384.6,1539 387.6,1542.7 389.1,1544.1 390.6,1545 393.1,1546 394.6,1546.3 395.6,1546.1 397.1,1545.5 398.1,1544.5 399.6,1542.4 401.1,1539.3 402.1,1536.4 404.6,1526.8 407.6,1512.6 409.6,1503.5 411.1,1496.4 414.6,1472.2 416.1,1461.3 417.1,1455.8 417.6,1454 418.1,1452.5 418.6,1451.5 419.1,1450.9 419.6,1450.5 420.1,1450.6 420.6,1451 421.1,1451.6 421.6,1452.5 422.6,1455.4 427.6,1477.6 431.6,1493.3 434.6,1503.7 436.6,1509.5 439.1,1515.8 442.6,1523.2 446.6,1530.7 450.1,1536.5 452.6,1539.9 455.1,1542.8 457.1,1544.5 458.6,1545.5 460.6,1546.2 461.6,1546.3 463.1,1545.8 463.6,1545.6 464.6,1544.7 466.1,1542.7 467.6,1539.7 468.6,1537 470.6,1529.5 473.6,1515.9 475.6,1506.3 477.1,1499.8 478.1,1494.2 481.6,1469.5 482.6,1462.3 483.6,1456.6 484.1,1454.5 484.6,1453 485.1,1451.8 485.6,1451.1 486.1,1450.6 486.6,1450.5 487.1,1450.8 487.6,1451.4 488.1,1452.2 489.1,1454.8 494.6,1479 498.6,1494.5 501.6,1504.7 504.1,1511.7 507.1,1518.7 510.6,1525.8 515.1,1533.8 517.6,1537.7 520.6,1541.5 522.6,1543.6 524.6,1545.1 526.1,1545.9 527.6,1546.3 528.6,1546.2 530.1,1545.7 531.1,1544.8 532.6,1542.9 534.1,1540 535.1,1537.5 537.1,1530.2 539.6,1519.1 542.1,1507 544.1,1498.1 545.6,1488.4 548.1,1470.8 549.1,1463.3 550.1,1457.4 550.6,1455.1 551.6,1452.1 552.1,1451.3 552.6,1450.7 553.1,1450.5 553.6,1450.7 554.1,1451.2 554.6,1451.9 555.6,1454.3 556.6,1458.4 561.1,1478.3 565.1,1493.9 568.1,1504.2 570.1,1510 572.6,1516.2 576.1,1523.6 580.1,1531 583.1,1536 585.6,1539.5 588.1,1542.4 590.1,1544.3 591.6,1545.3 593.1,1546 594.6,1546.3 595.6,1546.1 597.1,1545.4 598.1,1544.5 599.6,1542.4 601.1,1539.2 602.1,1536.4 604.6,1526.7 607.6,1512.5 609.6,1503.4 610.6,1499 611.6,1493 614.6,1472 616.1,1461.2 617.1,1455.8 617.6,1453.9 618.1,1452.5 618.6,1451.5 619.1,1450.9 619.6,1450.5 620.1,1450.6 620.6,1451 621.1,1451.6 621.6,1452.6 622.6,1455.5 627.6,1477.7 631.6,1493.4 634.6,1503.7 636.6,1509.6 639.1,1515.8 642.6,1523.3 646.6,1530.7 650.1,1536.5 652.6,1539.9 655.1,1542.8 657.1,1544.5 658.6,1545.5 660.6,1546.2 661.6,1546.3 663.1,1545.8 663.6,1545.6 664.6,1544.6 666.1,1542.6 667.6,1539.6 668.6,1536.9 670.6,1529.4 673.6,1515.8 675.6,1506.2 677.1,1499.7 678.1,1494.1 681.1,1473.2 682.6,1462.2 683.6,1456.5 684.1,1454.4 684.6,1452.9 685.1,1451.8 685.6,1451.1 686.1,1450.6 686.6,1450.5 687.1,1450.9 687.6,1451.4 688.1,1452.2 689.1,1454.9 694.6,1479.1 698.6,1494.6 701.6,1504.8 704.1,1511.8 707.1,1518.8 710.6,1525.9 715.1,1533.9 717.6,1537.7 720.6,1541.5 722.6,1543.6 724.6,1545.1 726.1,1545.9 727.6,1546.3 728.6,1546.2 730.1,1545.6 731.1,1544.8 732.6,1542.9 734.1,1540 735.1,1537.4 737.1,1530.1 739.6,1519 742.1,1506.9 744.1,1498 746.1,1484.9 749.1,1463.2 750.1,1457.3 750.6,1455 751.6,1452.1 752.1,1451.3 752.6,1450.7 753.1,1450.5 753.6,1450.7 754.1,1451.2 754.6,1451.9 755.6,1454.4 756.6,1458.4 761.1,1478.4 765.1,1494 768.1,1504.3 770.1,1510.1 772.6,1516.2 776.1,1523.6 780.1,1531 783.1,1536 785.6,1539.5 788.1,1542.5 790.1,1544.3 791.6,1545.3 793.1,1546 794.1,1546.3 795.1,1546.3 796.6,1545.7 797.1,1545.4 798.1,1544.4 799.6,1542.3 801.1,1539.2 802.1,1536.3 804.6,1526.6 807.6,1512.4 809.6,1503.4 810.6,1498.9 811.6,1492.8 814.6,1471.9 816.1,1461.1 817.1,1455.7 817.6,1453.8 818.1,1452.4 818.6,1451.5 819.1,1450.9 819.6,1450.5 820.1,1450.6 820.6,1451 821.1,1451.6 821.6,1452.6 822.6,1455.6 827.6,1477.7 831.6,1493.4 834.6,1503.8 836.6,1509.6 839.1,1515.8 842.6,1523.3 846.6,1530.7 850.1,1536.5 852.6,1540 855.1,1542.8 857.1,1544.5 858.6,1545.5 860.6,1546.2 861.6,1546.3 863.1,1545.8 863.6,1545.5 864.6,1544.6 866.1,1542.6 867.6,1539.6 868.6,1536.8 870.6,1529.4 873.6,1515.7 875.6,1506.1 877.1,1499.6 878.1,1493.9 881.1,1473.1 882.6,1462 883.6,1456.4 884.1,1454.3 884.6,1452.8 885.1,1451.7 885.6,1451.1 886.1,1450.6 886.6,1450.5 887.1,1450.9 887.6,1451.4 888.1,1452.3 889.1,1455 894.6,1479.1 898.6,1494.7 901.6,1504.9 904.1,1511.8 907.1,1518.8 910.6,1525.9 915.1,1533.9 917.6,1537.8 920.6,1541.6 922.6,1543.6 924.6,1545.1 926.1,1545.9 927.6,1546.3 928.6,1546.2 930.1,1545.6 931.1,1544.8 932.6,1542.8 934.1,1539.9 935.1,1537.3 937.1,1530 939.6,1518.9 942.1,1506.8 944.1,1497.9 946.6,1481.3 949.1,1463.1 950.1,1457.2 950.6,1454.9 951.6,1452 952.1,1451.2 952.6,1450.7 953.1,1450.5 953.6,1450.7 954.1,1451.2 954.6,1451.9 955.6,1454.5 956.6,1458.5 961.1,1478.5 965.1,1494.1 968.1,1504.4 970.6,1511.4 973.1,1517.4 976.6,1524.6 980.6,1531.9 983.6,1536.8 986.6,1540.8 988.6,1543 991.1,1545 992.6,1545.8 994.1,1546.3 995.1,1546.2 996.6,1545.7 997.1,1545.4 998.1,1544.4 999.6,1542.3 1001.1,1539.1 1002.1,1536.2 1004.6,1526.5 1007.6,1512.4 1009.6,1503.3 1010.6,1498.8 1011.6,1492.7 1014.6,1471.7 1016.1,1461 1017.1,1455.6 1017.6,1453.8 1018.1,1452.4 1018.6,1451.4 1019.1,1450.9 1019.6,1450.5 1020.1,1450.6 1020.6,1451.1 1021.1,1451.7 1022.1,1454 1022.6,1455.6 1027.6,1477.8 1031.6,1493.5 1034.6,1503.8 1036.6,1509.7 1039.1,1515.9 1042.6,1523.4 1046.6,1530.8 1050.1,1536.6 1052.6,1540 1055.1,1542.8 1057.1,1544.6 1058.6,1545.5 1060.6,1546.2 1061.6,1546.3 1063.1,1545.8 1063.6,1545.5 1064.6,1544.6 1066.1,1542.6 1067.6,1539.5 1068.6,1536.8 1070.6,1529.3 1073.6,1515.6 1075.6,1506 1077.1,1499.5 1078.1,1493.8 1081.1,1472.9 1082.6,1461.9 1083.6,1456.3 1084.1,1454.3 1084.6,1452.8 1085.1,1451.7 1085.6,1451 1086.1,1450.6 1086.6,1450.5 1087.1,1450.9 1087.6,1451.4 1088.1,1452.3 1089.1,1455.1 1094.6,1479.2 1098.6,1494.7 1101.6,1504.9 1104.1,1511.9 1107.1,1518.9 1110.6,1526 1115.1,1533.9 1117.6,1537.8 1120.6,1541.6 1122.6,1543.6 1124.6,1545.2 1126.1,1545.9 1127.6,1546.3 1128.6,1546.2 1130.1,1545.6 1131.1,1544.8 1132.6,1542.8 1134.1,1539.9 1135.1,1537.3 1137.1,1529.9 1139.6,1518.8 1142.1,1506.7 1144.1,1497.8 1147.1,1477.7 1149.1,1462.9 1150.1,1457.1 1150.6,1454.8 1151.6,1452 1152.1,1451.2 1152.6,1450.7 1153.1,1450.5 1153.6,1450.8 1154.1,1451.2 1154.6,1452 1155.6,1454.5 1156.6,1458.6 1161.1,1478.6 1165.1,1494.2 1168.1,1504.4 1170.6,1511.5 1173.1,1517.4 1176.6,1524.7 1180.6,1532 1183.6,1536.8 1186.6,1540.8 1188.6,1543 1191.1,1545 1192.6,1545.8 1194.1,1546.3 1195.1,1546.2 1196.6,1545.7 1197.6,1544.9 1199.1,1543.1 1200.1,1541.3 1201.6,1537.8 1203.1,1532.5 1205.1,1524.2 1209.1,1505.3 1210.6,1498.7 1211.6,1492.5 1214.6,1471.5 1216.1,1460.8 1217.1,1455.5 1217.6,1453.7 1218.1,1452.3 1218.6,1451.4 1219.1,1450.8 1219.6,1450.5 1220.1,1450.6 1220.6,1451.1 1221.1,1451.7 1222.1,1454.1 1222.6,1455.7 1227.6,1477.9 1231.6,1493.6 1234.6,1503.9 1236.6,1509.7 1239.1,1515.9 1242.6,1523.4 1246.6,1530.8 1250.1,1536.6 1252.6,1540 1255.1,1542.9 1257.1,1544.6 1258.6,1545.6 1260.6,1546.2 1261.6,1546.3 1263.1,1545.8 1263.6,1545.5 1264.6,1544.6 1266.1,1542.5 1267.6,1539.5 1268.6,1536.7 1270.6,1529.2 1273.6,1515.5 1275.6,1506 1277.1,1499.4 1278.1,1493.7 1281.1,1472.8 1282.6,1461.8 1283.6,1456.2 1284.1,1454.2 1284.6,1452.7 1285.1,1451.7 1285.6,1451 1286.1,1450.6 1286.6,1450.6 1287.1,1450.9 1287.6,1451.5 1288.1,1452.4 1289.1,1455.1 1294.6,1479.3 1298.6,1494.8 1301.6,1505 1304.1,1511.9 1307.1,1518.9 1310.6,1526 1315.1,1534 1317.6,1537.8 1320.6,1541.6 1322.6,1543.6 1324.6,1545.2 1326.1,1545.9 1327.6,1546.3 1328.6,1546.2 1330.1,1545.6 1331.1,1544.8 1332.6,1542.8 1334.1,1539.8 1335.1,1537.2 1337.1,1529.8 1339.6,1518.8 1342.1,1506.6 1344.1,1497.7 1347.6,1474 1349.1,1462.8 1350.1,1457 1350.6,1454.8 1351.6,1451.9 1352.1,1451.2 1352.6,1450.7 1353.1,1450.5 1353.6,1450.8 1354.1,1451.3 1354.6,1452 1355.6,1454.6 1356.6,1458.7 1361.1,1478.7 1365.1,1494.2 1368.1,1504.5 1370.6,1511.5 1373.1,1517.5 1376.6,1524.7 1381.1,1532.9 1384.1,1537.6 1387.1,1541.4 1389.1,1543.5 1391.1,1545.1 1392.6,1545.8 1394.1,1546.3 1395.1,1546.2 1396.6,1545.7 1397.6,1544.9 1399.1,1543 1400.1,1541.3 1401.6,1537.7 1403.1,1532.4 1405.1,1524.1 1409.1,1505.2 1410.6,1498.6 1411.6,1492.4 1414.6,1471.4 1416.1,1460.7 1417.1,1455.4 1417.6,1453.7 1418.1,1452.3 1418.6,1451.4 1419.1,1450.8 1419.6,1450.5 1420.1,1450.7 1420.6,1451.1 1421.1,1451.7 1422.1,1454.1 1422.6,1455.8 1427.6,1478 1431.6,1493.7 1434.6,1504 1436.6,1509.8 1439.1,1516 1442.6,1523.4 1446.6,1530.9 1450.1,1536.6 1452.6,1540 1455.1,1542.9 1457.1,1544.6 1458.6,1545.6 1460.6,1546.2 1461.6,1546.3 1463.1,1545.8 1463.6,1545.5 1464.6,1544.5 1466.1,1542.5 1467.6,1539.4 1468.6,1536.6 1470.6,1529.1 1473.6,1515.4 1475.6,1505.9 1477.1,1499.3 1478.1,1493.5 1481.1,1472.6 1482.6,1461.7 1483.6,1456.1 1484.1,1454.2 1484.6,1452.7 1485.1,1451.6 1485.6,1451 1486.1,1450.6 1486.6,1450.6 1487.1,1450.9 1487.6,1451.5 1488.1,1452.4 1489.1,1455.2 1494.6,1479.4 1498.6,1494.9 1501.6,1505 1504.1,1512 1507.1,1519 1510.6,1526 1515.1,1534 1517.6,1537.9 1520.6,1541.6 1522.6,1543.7 1524.6,1545.2 1526.1,1545.9 1527.6,1546.3 1528.6,1546.2 1530.1,1545.6 1531.1,1544.7 1532.6,1542.7 1534.1,1539.8 1535.1,1537.2 1537.1,1529.8 1539.6,1518.7 1542.1,1506.6 1544.1,1497.6 1547.6,1473.8 1549.1,1462.7 1550.1,1456.9 1550.6,1454.7 1551.1,1453.1 1551.6,1451.9 1552.1,1451.2 1552.6,1450.7 1553.1,1450.5 1553.6,1450.8 1554.1,1451.3 1554.6,1452.1 1555.6,1454.7 1557.6,1463.3 1561.1,1478.7 1565.1,1494.3 1568.1,1504.5 1570.6,1511.6 1573.1,1517.5 1576.6,1524.8 1581.1,1532.9 1584.1,1537.6 1587.1,1541.5 1589.1,1543.5 1591.1,1545.1 1592.6,1545.8 1594.1,1546.3 1595.1,1546.2 1596.6,1545.7 1597.6,1544.9 1599.1,1543 1600.1,1541.2 1601.6,1537.6 1603.6,1530.4 1606.1,1519.4 1609.1,1505.1 1610.6,1498.5 1611.6,1492.3 1614.6,1471.2 1616.1,1460.6 1617.1,1455.3 1617.6,1453.6 1618.1,1452.2 1618.6,1451.4 1619.1,1450.8 1619.6,1450.5 1620.1,1450.7 1620.6,1451.1 1621.1,1451.8 1622.1,1454.2 1623.1,1458.1 1627.6,1478.1 1631.6,1493.7 1634.6,1504 1636.6,1509.8 1639.1,1516 1642.6,1523.5 1646.6,1530.9 1650.1,1536.7 1652.6,1540.1 1655.1,1542.9 1657.1,1544.6 1658.6,1545.6 1660.6,1546.2 1661.6,1546.3 1663.1,1545.8 1663.6,1545.5 1664.6,1544.5 1666.1,1542.5 1667.6,1539.4 1668.6,1536.6 1670.6,1529 1673.6,1515.3 1675.6,1505.8 1677.1,1499.3 1678.1,1493.4 1681.1,1472.5 1682.6,1461.5 1683.6,1456 1684.1,1454.1 1684.6,1452.6 1685.1,1451.6 1685.6,1451 1686.1,1450.5 1686.6,1450.6 1687.1,1451 1687.6,1451.5 1688.1,1452.4 1689.1,1455.3 1694.6,1479.5 1698.6,1495 1701.6,1505.1 1704.1,1512 1707.1,1519 1710.6,1526.1 1715.1,1534 1717.6,1537.9 1720.6,1541.7 1722.6,1543.7 1724.6,1545.2 1726.1,1545.9 1727.6,1546.3 1728.6,1546.2 1730.1,1545.6 1731.1,1544.7 1732.6,1542.7 1734.1,1539.8 1735.1,1537.1 1737.1,1529.7 1739.6,1518.6 1742.1,1506.5 1744.1,1497.5 1747.6,1473.7 1749.1,1462.5 1750.1,1456.8 1750.6,1454.6 1751.1,1453.1 1751.6,1451.9 1752.1,1451.1 1752.6,1450.6 1753.1,1450.5 1753.6,1450.8 1754.1,1451.3 1754.6,1452.1 1755.6,1454.7 1758.1,1465.6 1761.1,1478.8 1765.1,1494.4 1768.1,1504.6 1770.6,1511.6 1773.6,1518.7 1777.1,1525.8 1781.6,1533.8 1784.1,1537.7 1787.1,1541.5 1789.1,1543.5 1791.1,1545.1 1792.6,1545.9 1794.1,1546.3 1795.1,1546.2 1796.6,1545.7 1797.6,1544.9 1799.1,1543 1800.1,1541.2 1801.6,1537.6 1803.6,1530.3 1806.1,1519.3 1809.1,1505 1810.6,1498.4 1811.6,1492.1 1814.6,1471.1 1816.1,1460.5 1817.1,1455.2 1818.1,1452.2 1818.6,1451.3 1819.1,1450.8 1819.6,1450.5 1820.1,1450.7 1820.6,1451.1 1821.1,1451.8 1822.1,1454.2 1823.1,1458.2 1827.6,1478.2 1831.6,1493.8 1834.6,1504.1 1836.6,1509.9 1839.1,1516.1 1842.6,1523.5 1846.6,1530.9 1849.6,1535.9 1852.1,1539.4 1854.6,1542.4 1856.6,1544.2 1858.1,1545.3 1859.6,1546 1861.1,1546.3 1862.1,1546.1 1863.6,1545.5 1864.6,1544.5 1866.1,1542.4 1867.6,1539.3 1868.6,1536.5 1871.1,1526.8 1874.1,1512.7 1876.1,1503.6 1877.6,1496.5 1881.1,1472.3 1882.6,1461.4 1883.6,1455.9 1884.1,1454 1884.6,1452.6 1885.1,1451.6 1885.6,1450.9 1886.1,1450.5 1886.6,1450.6 1887.1,1451 1887.6,1451.5 1888.1,1452.5 1889.1,1455.3 1894.6,1479.6 1898.6,1495 1901.6,1505.2 1904.1,1512.1 1907.1,1519 1910.6,1526.1 1915.1,1534.1 1917.6,1537.9 1920.6,1541.7 1922.6,1543.7 1924.6,1545.2 1926.1,1545.9 1927.6,1546.3 1928.6,1546.2 1930.1,1545.6 1931.1,1544.7 1932.6,1542.7 1934.1,1539.7 1935.1,1537 1937.1,1529.6 1939.6,1518.5 1942.1,1506.4 1944.1,1497.4 1947.6,1473.5 1949.1,1462.4 1950.1,1456.7 1950.6,1454.5 1951.1,1453 1951.6,1451.8 1952.1,1451.1 1952.6,1450.6 1953.1,1450.5 1953.6,1450.8 1954.1,1451.3 1954.6,1452.1 1955.6,1454.8 1958.6,1468 1961.6,1480.9 1965.6,1496.3 1968.6,1506.2 1971.1,1512.9 1974.1,1519.8 1977.6,1526.7 1982.1,1534.6 1984.6,1538.4 1987.6,1542.1 1989.6,1544 1991.6,1545.4 1993.6,1546.2 1994.6,1546.3 1995.6,1546.1 1996.6,1545.7 1997.6,1544.9 1999.1,1542.9 2000.6,1540.1 2001.6,1537.5 2003.6,1530.2 2006.1,1519.2 2009.1,1504.9 2010.6,1498.2 2012.1,1488.5 2014.6,1470.9 2016.1,1460.4 2017.1,1455.2 2018.1,1452.2 2018.6,1451.3 2019.1,1450.8 2019.6,1450.5 2020.1,1450.7 2020.6,1451.2 2021.1,1451.8 2022.1,1454.3 2023.1,1458.3 2027.6,1478.2 2031.6,1493.9 2034.6,1504.2 2036.6,1509.9 2039.1,1516.1 2042.6,1523.5 2046.6,1531 2049.6,1536 2052.1,1539.5 2054.6,1542.4 2056.6,1544.2 2058.1,1545.3 2059.6,1546 2061.1,1546.3 2062.1,1546.1 2063.6,1545.5 2064.6,1544.5 2066.1,1542.4 2067.6,1539.3 2068.6,1536.4 2071.1,1526.8 2074.1,1512.6 2076.1,1503.5 2077.6,1496.4 2081.1,1472.2 2082.6,1461.3 2083.6,1455.8 2084.1,1454 2084.6,1452.5 2085.1,1451.5 2085.6,1450.9 2086.1,1450.5 2086.6,1450.6 2087.1,1451 2087.6,1451.6 2088.1,1452.5 2089.1,1455.4 2094.1,1477.6 2098.1,1493.3 2101.1,1503.7 2103.1,1509.5 2105.6,1515.8 2109.1,1523.2 2113.1,1530.7 2116.6,1536.5 2119.1,1539.9 2121.6,1542.8 2123.6,1544.5 2125.1,1545.5 2127.1,1546.2 2128.1,1546.3 2129.6,1545.8 2130.1,1545.6 2131.1,1544.7 2132.6,1542.7 2134.1,1539.7 2135.1,1537 2137.1,1529.5 2140.1,1515.9 2142.1,1506.3 2143.6,1499.8 2144.6,1494.2 2148.1,1469.5 2149.1,1462.3 2150.1,1456.6 2150.6,1454.5 2151.1,1453 2151.6,1451.8 2152.1,1451.1 2152.6,1450.6 2153.1,1450.5 2153.6,1450.8 2154.1,1451.4 2154.6,1452.2 2155.6,1454.8 2161.1,1479 2165.1,1494.5 2168.1,1504.7 2170.6,1511.7 2173.6,1518.7 2177.1,1525.8 2181.6,1533.8 2184.1,1537.7 2187.1,1541.5 2189.1,1543.6 2191.1,1545.1 2192.6,1545.9 2194.1,1546.3 2195.1,1546.2 2196.6,1545.7 2197.6,1544.8 2199.1,1542.9 2200.6,1540 2201.6,1537.5 2203.6,1530.2 2206.1,1519.1 2208.6,1507 2210.6,1498.1 2212.1,1488.4 2214.6,1470.8 2215.6,1463.3 2216.6,1457.4 2217.1,1455.1 2218.1,1452.1 2218.6,1451.3 2219.1,1450.7 2219.6,1450.5 2220.1,1450.7 2220.6,1451.2 2221.1,1451.9 2222.1,1454.3 2223.1,1458.4 2227.6,1478.3 2231.6,1493.9 2234.6,1504.2 2236.6,1510 2239.1,1516.2 2242.6,1523.6 2246.6,1531 2249.1,1535.2" stroke="#7E2F8E"/>
</g>
<rect x="1954.6" y="1353.0" width="234" height="326.8" fill="#fff" stroke="#262626" stroke-width="2.7"/>
<path d="M1973.3,1399.5 H2114" stroke="#0072BD" stroke-width="3.1" fill="none"/>
<text x="2128.7" y="1423.0" font-size="54.8" fill="#000">x</text>
<path d="M1973.3,1477.3 H2114" stroke="#D95319" stroke-width="3.1" fill="none"/>
<text x="2128.7" y="1500.8" font-size="54.8" fill="#000">y</text>
<path d="M1973.3,1555.1 H2114" stroke="#EDB120" stroke-width="3.1" fill="none"/>
<text x="2128.7" y="1578.6" font-size="54.8" fill="#000">z</text>
<path d="M1973.3,1632.9 H2114" stroke="#7E2F8E" stroke-width="3.1" fill="none"/>
<text x="2128.7" y="1656.4" font-size="54.8" fill="#000">w</text>
</g>
</svg></body></html>
